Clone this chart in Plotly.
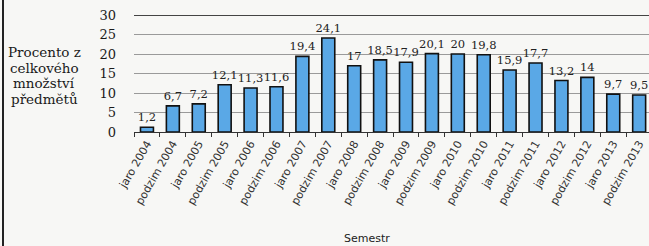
import plotly.graph_objects as go

categories = ["jaro 2004", "podzim 2004", "jaro 2005", "podzim 2005", "jaro 2006",
              "podzim 2006", "jaro 2007", "podzim 2007", "jaro 2008", "podzim 2008",
              "jaro 2009", "podzim 2009", "jaro 2010", "podzim 2010", "jaro 2011",
              "podzim 2011", "jaro 2012", "podzim 2012", "jaro 2013", "podzim 2013"]
values = [1.2, 6.7, 7.2, 12.1, 11.3, 11.6, 19.4, 24.1, 17, 18.5,
          17.9, 20.1, 20, 19.8, 15.9, 17.7, 13.2, 14, 9.7, 9.5]
labels = [f"{v:g}".replace(".", ",") for v in values]
y_ticks = [0, 5, 10, 15, 20, 25, 30]
y_title_lines = ["Procento z", "celkového", "množství", "předmětů"]

W, H = 649, 246
L, R, T, B = 134, 0, 15, 114
PW = W - L - R
PH = H - T - B

fig = go.Figure()
fig.add_trace(go.Bar(
    x=categories, y=values, text=labels, textposition="outside",
    textfont=dict(family="DejaVu Serif", size=11.5, color="#222"),
    constraintext="none", cliponaxis=False, width=0.5,
    marker=dict(color="#5aa8e6", line=dict(color="#111", width=1.6)),
    hoverinfo="skip",
))

fig.update_layout(
    width=W, height=H,
    margin=dict(l=L, r=R, t=T, b=B, pad=0),
    paper_bgcolor="#f7f7f5", plot_bgcolor="#f7f7f5",
    showlegend=False,
    font=dict(family="DejaVu Sans", color="#222"),
    xaxis=dict(
        type="category", range=[-0.5, 19.38], tickangle=-60,
        tickfont=dict(family="DejaVu Sans", size=11, color="#333"),
        showline=True, linecolor="#333", linewidth=1.2,
        ticks="outside", ticklen=4, tickcolor="#333", tickson="boundaries",
        showgrid=False,
    ),
    yaxis=dict(
        range=[0, 30], tickvals=y_ticks, ticktext=[str(v) for v in y_ticks],
        tickfont=dict(family="DejaVu Serif", size=13, color="#1a1a1a"),
        ticklabelstandoff=17,
        showgrid=True, gridcolor="#9a9a9a", gridwidth=1,
        zeroline=False, showline=False,
    ),
)

# darker top gridline
fig.add_shape(type="line", xref="paper", yref="y", x0=0, x1=1, y0=30, y1=30,
              line=dict(color="#444", width=2))
# left border of the scanned frame
fig.add_shape(type="line", xref="paper", yref="paper",
              x0=(3 - L) / PW, x1=(3 - L) / PW, y0=-2, y1=2,
              line=dict(color="#222", width=2))

for i, line in enumerate(y_title_lines):
    fig.add_annotation(
        text=line, xref="paper", yref="paper",
        x=(44 - L) / PW, y=(132 - (52 + 15.5 * i)) / PH,
        xanchor="center", yanchor="middle", showarrow=False,
        font=dict(family="DejaVu Serif", size=13.5, color="#1a1a1a"),
    )
fig.add_annotation(
    text="Semestr", xref="paper", yref="paper",
    x=(367 - L) / PW, y=-(239 - 132) / PH,
    xanchor="center", yanchor="middle", showarrow=False,
    font=dict(family="DejaVu Sans", size=11, color="#222"),
)

fig.write_html("out.html", config={"displayModeBar": False},
               post_script="document.body.style.margin='0';document.body.style.overflow='hidden';")
